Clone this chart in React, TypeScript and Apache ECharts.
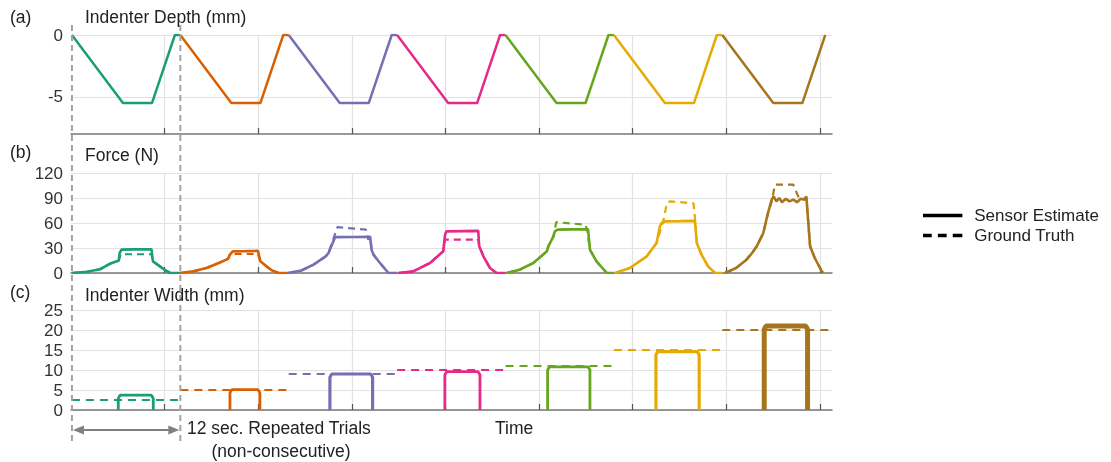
import React, { useEffect, useRef } from 'react';
import * as echarts from 'echarts';

// ---------- data ----------
const trialColors = ['#1b9e77', '#d95f02', '#7570b3', '#e7298a', '#66a61e', '#e6ab02', '#a6761d'];
const trialStart = [0.1, 11.68, 23.26, 34.84, 46.42, 58.0, 69.58];
const timeMax = 81.3;
const timeTicks = [10, 20, 30, 40, 50, 60, 70, 80];

// indenter depth profile (relative time in s, depth in mm)
const depthT = [0, 5.45, 8.55, 11.0];
const depthV = [0, -5.5, -5.5, 0];
const depthTicks = [-5, 0];

// force (relative time s, N)
const forceLag = [0, 0, -0.05, 0.12, 0.12, 0.11, 0.28];
const forceSensor1 = [[0, 0], [1.6, 1.5], [3.0, 4.5], [4.05, 11], [4.8, 14], [5.0, 15], [5.1, 24], [5.3, 28], [6.5, 28.3], [8.5, 28.5], [8.65, 14], [9.4, 8], [10.0, 3], [10.5, 0]];
const forceTruth1 = [[0, 0], [1.6, 1.5], [3.0, 4.5], [4.05, 11], [4.8, 14], [5.0, 15], [5.2, 22.5], [8.5, 22.5], [8.65, 14], [9.4, 8], [10.0, 3], [10.5, 0]];
const forceSensor2 = [[0, 0], [1.4, 2], [2.8, 6], [4.1, 12], [5.1, 17], [5.3, 22], [5.6, 26], [7.0, 26.2], [8.3, 26.5], [8.55, 14], [9.2, 8], [9.8, 3], [10.5, 0]];
const forceTruth2 = [[0, 0], [1.4, 2], [2.8, 6], [4.1, 12], [5.1, 17], [5.3, 22.8], [8.3, 22.8], [8.55, 14], [9.2, 8], [9.8, 3], [10.5, 0]];
const forceSensor3 = [[0, 0], [1.4, 3], [2.7, 10], [4.0, 20], [4.3, 24], [5.0, 43], [7.0, 43.2], [8.75, 43.5], [8.9, 28], [9.1, 22], [9.8, 12], [10.7, 0]];
const forceTruth3 = [[0, 0], [1.4, 3], [2.7, 10], [4.0, 20], [4.3, 24], [5.25, 55], [8.3, 52], [8.55, 40], [8.75, 43], [8.9, 28], [9.1, 22], [9.8, 12], [10.7, 0]];
const forceSensor4 = [[0, 0], [1.6, 2], [3.4, 12], [4.8, 26], [5.0, 46], [5.15, 50], [7.0, 50.3], [8.55, 50.5], [8.65, 32], [9.1, 20], [9.8, 6], [10.5, 0]];
const forceTruth4 = [[0, 0], [1.6, 2], [3.4, 12], [4.8, 26], [5.0, 40], [8.0, 40], [8.3, 38], [8.55, 40], [8.65, 32], [9.1, 20], [9.8, 6], [10.5, 0]];
const forceSensor5 = [[0, 0], [1.4, 4], [2.85, 12], [4.3, 26], [4.45, 32], [5.0, 44], [5.15, 50], [5.45, 52], [7.0, 52.3], [8.7, 52.5], [8.9, 28], [9.6, 14], [10.7, 0]];
const forceTruth5 = [[0, 0], [1.4, 4], [2.85, 12], [4.3, 26], [4.45, 32], [5.0, 44], [5.3, 61], [8.4, 58], [8.6, 52], [8.9, 28], [9.6, 14], [10.7, 0]];
const forceSensor6 = [[0, 0], [1.6, 6], [3.4, 20], [4.45, 36], [4.8, 56], [5.0, 60], [5.35, 62], [7.0, 62.2], [8.55, 62.5], [8.75, 36], [9.25, 22], [9.95, 8], [10.7, 0]];
const forceTruth6 = [[0, 0], [1.6, 6], [3.4, 20], [4.45, 36], [5.2, 64], [5.55, 84], [5.9, 86], [7.0, 85], [8.4, 83.5], [8.55, 66], [8.75, 36], [9.25, 22], [9.95, 8], [10.7, 0]];
const forceSensor7 = [[0, 0], [1.2, 6], [2.3, 16], [2.9, 24], [3.4, 32], [4.1, 48], [4.6, 72], [5.0, 88], [5.2, 92], [5.5, 86], [5.8, 90], [6.1, 85], [6.5, 89], [6.9, 86], [7.3, 88], [7.7, 85], [8.1, 89], [8.5, 88], [8.7, 92], [9.1, 32], [9.6, 18], [10.3, 3], [10.5, 0]];
const forceTruth7 = [[0, 0], [1.2, 6], [2.3, 16], [2.9, 24], [3.4, 32], [4.1, 48], [4.6, 72], [5.0, 86], [5.35, 106], [7.3, 106], [7.75, 94], [8.0, 88], [8.7, 90], [9.1, 32], [9.6, 18], [10.3, 3], [10.5, 0]];
const forceSensor = [forceSensor1, forceSensor2, forceSensor3, forceSensor4, forceSensor5, forceSensor6, forceSensor7];
const forceTruth = [forceTruth1, forceTruth2, forceTruth3, forceTruth4, forceTruth5, forceTruth6, forceTruth7];
const forceTicks = [0, 30, 60, 90, 120];

// indenter width (relative time s, mm)
const widthOn = [4.95, 5.3, 4.4, 5.1, 4.5, 4.49, 4.48];
const widthOff = [8.69, 8.5, 8.96, 8.85, 9.02, 9.11, 9.11];
const widthSensor = [3.7, 5.1, 9.0, 9.6, 10.8, 14.6, 21.0];
const widthTruth = [2.5, 5, 9, 10, 11, 15, 20];
const widthTicks = [0, 5, 10, 15, 20, 25];

const legendNames = ['Sensor Estimate', 'Ground Truth'];

// ---------- styles ----------
const FONT = '"Liberation Sans", Arial, sans-serif';
const widthLineW = [2.8, 2.8, 3.2, 2.8, 2.8, 3.2, 5];
const SOLID_ICON = 'path://M0 0H45V4H0Z';
const DASH_ICON = 'path://M0 0H10V4H0ZM17 0H27V4H17ZM34 0H45V4H34Z';

function trialEnd(k: number) {
  return k < trialStart.length - 1 ? trialStart[k + 1] : timeMax;
}

function buildSeries() {
  const series: any[] = [];
  trialStart.forEach((s, k) => {
    const color = trialColors[k];
    // depth
    const dData = depthT.map((t, i) => [s + t, depthV[i]]);
    if (k < trialStart.length - 1) dData.push([trialStart[k + 1], 0]);
    series.push({
      type: 'line', xAxisIndex: 0, yAxisIndex: 0, data: dData, showSymbol: false, symbol: 'none',
      lineStyle: { color, width: 2.5 }, z: 3,
    });
    // force truth and sensor
    const lag = s + forceLag[k];
    const ft = forceTruth[k].map((p) => [lag + p[0], p[1]]);
    const fs = forceSensor[k].map((p) => [lag + p[0], p[1]]);
    if (k < trialStart.length - 1) fs.push([trialStart[k + 1], 0]);
    series.push({
      type: 'line', xAxisIndex: 1, yAxisIndex: 1, data: ft, showSymbol: false, symbol: 'none',
      lineStyle: { color, width: 2.2, type: [7, 5] }, z: 2,
    });
    series.push({
      type: 'line', xAxisIndex: 1, yAxisIndex: 1, data: fs, showSymbol: false, symbol: 'none',
      lineStyle: { color, width: 2.6 }, z: 3,
    });
    // width truth and sensor
    series.push({
      type: 'line', xAxisIndex: 2, yAxisIndex: 2,
      data: [[s, widthTruth[k]], [trialEnd(k), widthTruth[k]]], showSymbol: false, symbol: 'none',
      lineStyle: { color, width: 2, type: [8, 6] }, z: 2,
    });
    const on = s + widthOn[k];
    const off = s + widthOff[k];
    const v = widthSensor[k];
    series.push({
      type: 'line', xAxisIndex: 2, yAxisIndex: 2,
      data: [[on, 0], [on, v - 0.8], [on + 0.2, v], [off - 0.2, v], [off, v - 0.8], [off, 0]],
      showSymbol: false, symbol: 'none',
      lineStyle: { color, width: widthLineW[k] }, z: 3,
    });
  });
  series.push({
    name: legendNames[0], type: 'line', xAxisIndex: 0, yAxisIndex: 0, data: [], symbol: 'none',
    lineStyle: { color: '#000', width: 3.5 }, itemStyle: { color: '#000' },
  });
  series.push({
    name: legendNames[1], type: 'line', xAxisIndex: 0, yAxisIndex: 0, data: [], symbol: 'none',
    lineStyle: { color: '#000', width: 2.5, type: [9, 6] }, itemStyle: { color: '#000' },
  });
  return series;
}

function xAxis(i: number) {
  return {
    type: 'value', gridIndex: i, min: 0, max: timeMax, position: 'bottom',
    axisLine: { show: true, onZero: false, lineStyle: { color: '#777', width: 1.5 } },
    axisTick: { show: true, inside: true, length: 6, customValues: timeTicks, lineStyle: { color: '#555', width: 1.2 } },
    axisLabel: { show: false },
    splitLine: { show: true, lineStyle: { color: '#e2e2e2', width: 1.2 } },
  };
}

function yAxis(i: number, min: number, max: number, ticks: number[]) {
  return {
    type: 'value', gridIndex: i, min, max,
    axisLine: { show: false },
    axisTick: { show: false, customValues: ticks },
    axisLabel: { customValues: ticks, fontSize: 17, color: '#333', fontFamily: FONT, margin: 8 },
    splitLine: { show: true, lineStyle: { color: '#e2e2e2', width: 1.2 } },
  };
}

const option: any = {
  animation: false,
  textStyle: { fontFamily: FONT },
  grid: [
    { left: 71, right: 279, top: 35, height: 99 },
    { left: 71, right: 279, top: 173, height: 100 },
    { left: 71, right: 279, top: 310, height: 100 },
  ],
  xAxis: [xAxis(0), xAxis(1), xAxis(2)],
  yAxis: [
    yAxis(0, -8, 0, depthTicks),
    yAxis(1, 0, 120, forceTicks),
    yAxis(2, 0, 25, widthTicks),
  ],
  legend: {
    orient: 'vertical', left: 918, top: 202, itemWidth: 45, itemHeight: 3.5, itemGap: 3,
    textStyle: { fontSize: 17, color: '#222', fontFamily: FONT, padding: [0, 0, 0, 4] },
    itemStyle: { color: '#000' },
    data: [
      { name: legendNames[0], icon: SOLID_ICON },
      { name: legendNames[1], icon: DASH_ICON },
    ],
  },
  series: buildSeries(),
};

function txt(text: string, x: number, y: number, align: string = 'left', size = 17.5) {
  return {
    type: 'text', z: 20,
    style: { text, x, y, align, verticalAlign: 'middle', fontSize: size, fontFamily: FONT, fill: '#222' },
  };
}

export default function App() {
  const ref = useRef<HTMLDivElement>(null);
  useEffect(() => {
    const chart = echarts.init(ref.current!, null, { renderer: 'svg' });
    chart.setOption(option);
    const xa = chart.convertToPixel({ xAxisIndex: 2 }, trialStart[0]) as number;
    const xb = chart.convertToPixel({ xAxisIndex: 2 }, trialStart[1]) as number;
    const dash = { stroke: '#a3a3a3', lineWidth: 2, lineDash: [6, 4] };
    const ay = 430;
    chart.setOption({
      graphic: [
        { type: 'line', z: 15, shape: { x1: xa, y1: 25, x2: xa, y2: 442 }, style: dash },
        { type: 'line', z: 15, shape: { x1: xb, y1: 25, x2: xb, y2: 442 }, style: dash },
        { type: 'line', z: 15, shape: { x1: xa + 4, y1: ay, x2: xb - 4, y2: ay }, style: { stroke: '#808080', lineWidth: 2 } },
        { type: 'polygon', z: 15, shape: { points: [[xa + 1, ay], [xa + 12, ay - 4.5], [xa + 12, ay + 4.5]] }, style: { fill: '#808080' } },
        { type: 'polygon', z: 15, shape: { points: [[xb - 1, ay], [xb - 12, ay - 4.5], [xb - 12, ay + 4.5]] }, style: { fill: '#808080' } },
        txt('(a)', 10, 17),
        txt('Indenter Depth (mm)', 85, 17),
        txt('(b)', 10, 152),
        txt('Force (N)', 85, 155),
        txt('(c)', 10, 292),
        txt('Indenter Width (mm)', 85, 295),
        txt('12 sec. Repeated Trials', 187, 428),
        txt('(non-consecutive)', 281, 451, 'center'),
        txt('Time', 495, 428),
      ],
    });
    return () => chart.dispose();
  }, []);
  return <div ref={ref} style={{ position: 'fixed', left: 0, top: 0, width: 1111, height: 462 }} />;
}
